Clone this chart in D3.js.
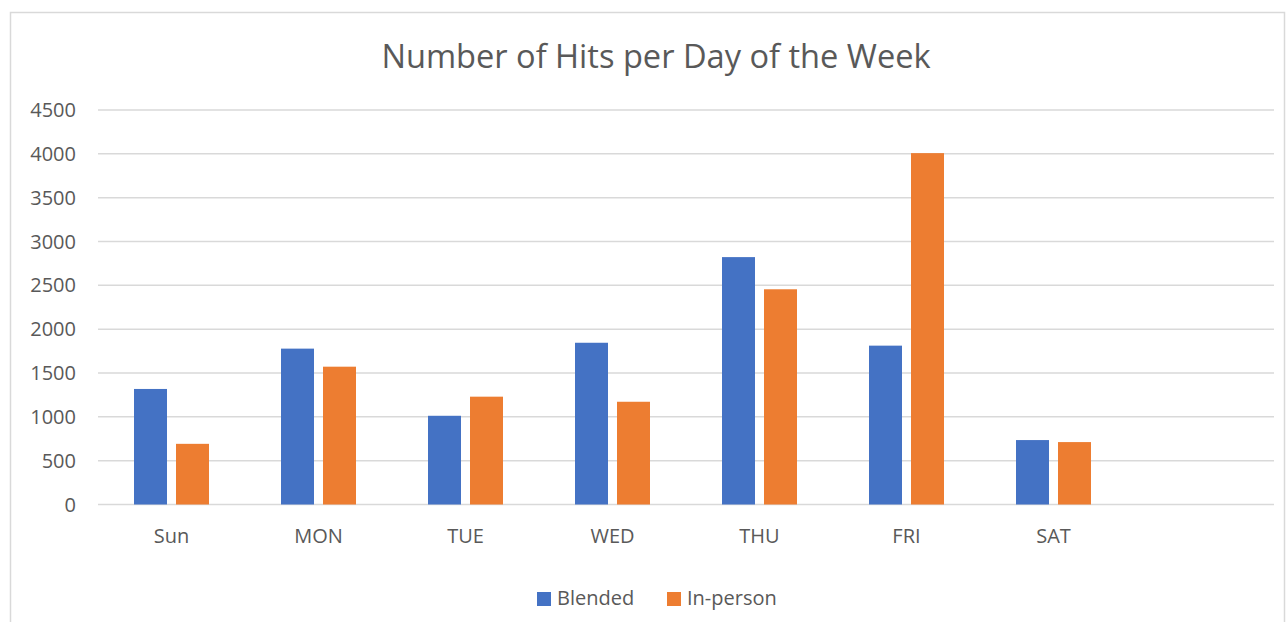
<!DOCTYPE html>
<html>
<head>
<meta charset="utf-8">
<script src="https://cdn.jsdelivr.net/npm/d3@7"></script>
<style>
  body { margin: 0; background: #fff; }
  text { font-family: "Open Sans", "Noto Sans", sans-serif; fill: #595959; }
</style>
</head>
<body>
<svg></svg>
<script>
var days = ["Sun", "MON", "TUE", "WED", "THU", "FRI", "SAT", ""];
var seriesNames = ["Blended", "In-person"];
var blended = [1318, 1778, 1012, 1845, 2822, 1812, 735];
var inPerson = [692, 1572, 1230, 1172, 2455, 4008, 712];
var yTicks = [0, 500, 1000, 1500, 2000, 2500, 3000, 3500, 4000, 4500];

var colors = ["#4472C4", "#ED7D31"];

var svgWidth = 1288,
    svgHeight = 622;

var svg = d3.select("svg")
    .attr("width", svgWidth)
    .attr("height", svgHeight);

// chart frame
svg.append("rect")
    .attr("x", 10.5)
    .attr("y", 12.5)
    .attr("width", 1274)
    .attr("height", 640)
    .attr("fill", "none")
    .attr("stroke", "#d9d9d9")
    .attr("stroke-width", 1.5);

svg.append("text")
    .attr("x", 656)
    .attr("y", 68)
    .attr("text-anchor", "middle")
    .attr("font-size", 32.6)
    .text("Number of Hits per Day of the Week");

var xScale = d3.scaleBand()
    .domain(d3.range(days.length))
    .range([98, 1274]);

var yScale = d3.scaleLinear()
    .domain([0, 4500])
    .range([504.5, 110]);

var inner = d3.scaleBand()
    .domain([0, 1])
    .range([36, xScale.bandwidth() - 36])
    .paddingInner(9 / 42);

// gridlines
svg.selectAll("line.grid")
    .data(yTicks)
    .enter()
    .append("line")
    .attr("class", "grid")
    .attr("x1", 98)
    .attr("x2", 1274)
    .attr("y1", function (d) { return yScale(d); })
    .attr("y2", function (d) { return yScale(d); })
    .attr("stroke", "#d9d9d9")
    .attr("stroke-width", 1.5);

svg.selectAll("text.ytick")
    .data(yTicks)
    .enter()
    .append("text")
    .attr("class", "ytick")
    .attr("x", 76)
    .attr("y", function (d) { return yScale(d) + 7; })
    .attr("text-anchor", "end")
    .attr("font-size", 20)
    .text(function (d) { return d; });

svg.selectAll("text.xtick")
    .data(days)
    .enter()
    .append("text")
    .attr("class", "xtick")
    .attr("x", function (d, i) { return xScale(i) + xScale.bandwidth() / 2; })
    .attr("y", 543)
    .attr("text-anchor", "middle")
    .attr("font-size", 20)
    .text(function (d) { return d; });

var series = [blended, inPerson];

series.forEach(function (values, s) {
    svg.selectAll("rect.s" + s)
        .data(values)
        .enter()
        .append("rect")
        .attr("class", "s" + s)
        .attr("x", function (d, i) { return xScale(i) + inner(s); })
        .attr("width", inner.bandwidth())
        .attr("y", function (d) { return yScale(d); })
        .attr("height", function (d) { return yScale(0) - yScale(d); })
        .attr("fill", colors[s]);
});

// legend
var legendX = [537, 667];
var legend = svg.selectAll("g.legend")
    .data(seriesNames)
    .enter()
    .append("g")
    .attr("class", "legend")
    .attr("transform", function (d, i) { return "translate(" + legendX[i] + ",592)"; });

legend.append("rect")
    .attr("width", 14)
    .attr("height", 14)
    .attr("fill", function (d, i) { return colors[i]; });

legend.append("text")
    .attr("x", 20)
    .attr("y", 13)
    .attr("font-size", 20)
    .text(function (d) { return d; });
</script>
</body>
</html>
